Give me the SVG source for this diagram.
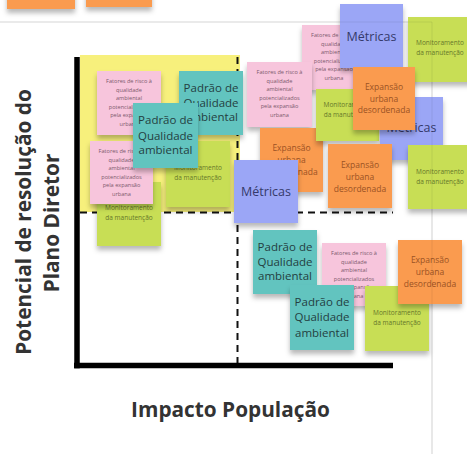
<svg xmlns="http://www.w3.org/2000/svg" width="467" height="454" viewBox="0 0 467 454">
<defs>
<filter id="sh" x="-20%" y="-20%" width="140%" height="150%">
<feDropShadow dx="0" dy="4" stdDeviation="2.5" flood-color="#000" flood-opacity="0.28"/>
</filter>
</defs>
<style>
text{font-family:"Open Sans","DejaVu Sans",sans-serif;text-anchor:middle}
.n{filter:url(#sh)}
.pk{fill:#f7c5dc}.tl{fill:#62c4bf}.gr{fill:#c8de55}.mt{fill:#9ba6f6}.or{fill:#fa9b4f}
.tp{font-size:5.6px;fill:#7c5a6c}
.tt{font-size:11.5px;fill:#24403f}
.tm{font-size:12.5px;fill:#353a6a}
.to{font-size:8.5px;fill:#9b5224}
.tg{font-size:6.5px;fill:#66772a}
.ax{font-size:20.8px;font-weight:bold;fill:#333}
.dash{stroke:#111;stroke-width:2;stroke-dasharray:7 5;fill:none}
</style>
<rect width="467" height="454" fill="#fff"/>
<g id="top-notes">
<rect class="n or" x="7" y="-55" width="68" height="64"/>
<rect class="n or" x="86" y="-57" width="66" height="64"/>
</g>
<g id="frame-bg"><path d="M-5 22H432V460" fill="none" stroke="#e8e8e8" stroke-width="1.2"/></g>
<rect id="quadrant-highlight" x="80" y="55" width="160" height="157" fill="#f7f07c"/>
<g id="connectors">
<path class="dash" d="M237.5 57V366"/>
<path class="dash" d="M80 212.5H393"/>
<path d="M77 57V368.5M74 365.5H393" stroke="#000" stroke-width="5.5" fill="none"/>
</g>
<g id="labels">
<text class="ax" x="230.5" y="417">Impacto População</text>
<text class="ax" transform="translate(31 222) rotate(-90)">Potencial de resolução do</text>
<text class="ax" transform="translate(59 223) rotate(-90)">Plano Diretor</text>
</g>
<g id="n1"><rect class="n pk" x="97" y="71" width="64" height="64"/>
<text class="tp"><tspan x="129" y="83">Fatores de risco à</tspan><tspan x="129" y="91.5">qualidade</tspan><tspan x="129" y="100">ambiental</tspan><tspan x="129" y="108.5">potencializados</tspan><tspan x="129" y="117">pela expansão</tspan><tspan x="129" y="125.5">urbana</tspan></text></g>
<g id="n2"><rect class="n tl" x="179" y="71" width="64" height="64"/>
<text class="tt"><tspan x="211" y="92">Padrão de</tspan><tspan x="211" y="107">Qualidade</tspan><tspan x="211" y="121">ambiental</tspan></text></g>
<g id="n5"><rect class="n gr" x="166" y="141" width="64" height="66"/>
<text class="tg"><tspan x="198" y="170">Monitoramento</tspan><tspan x="198" y="180">da manutenção</tspan></text></g>
<g id="n4"><rect class="n gr" x="97" y="182" width="64" height="64"/>
<text class="tg"><tspan x="129" y="210">Monitoramento</tspan><tspan x="129" y="220">da manutenção</tspan></text></g>
<g id="n3"><rect class="n pk" x="90" y="141" width="63" height="63"/>
<text class="tp"><tspan x="121.5" y="153">Fatores de risco à</tspan><tspan x="121.5" y="161.5">qualidade</tspan><tspan x="121.5" y="170">ambiental</tspan><tspan x="121.5" y="178.5">potencializados</tspan><tspan x="121.5" y="187">pela expansão</tspan><tspan x="121.5" y="195.5">urbana</tspan></text></g>
<g id="n6"><rect class="n tl" x="133" y="103" width="65" height="65"/>
<text class="tt"><tspan x="165.5" y="124">Padrão de</tspan><tspan x="165.5" y="140">Qualidade</tspan><tspan x="165.5" y="154">ambiental</tspan></text></g>
<g id="n7"><rect class="n pk" x="302" y="25" width="64" height="65"/>
<text class="tp"><tspan x="334" y="37">Fatores de risco à</tspan><tspan x="334" y="45.5">qualidade</tspan><tspan x="334" y="54">ambiental</tspan><tspan x="334" y="62.5">potencializados</tspan><tspan x="334" y="71">pela expansão</tspan><tspan x="334" y="79.5">urbana</tspan></text></g>
<g id="n8"><rect class="n mt" x="340" y="4" width="63" height="64"/>
<text class="tm" x="371.5" y="41">Métricas</text></g>
<g id="n9"><rect class="n gr" x="408" y="17" width="64" height="65"/>
<text class="tg"><tspan x="440" y="45">Monitoramento</tspan><tspan x="440" y="55">da manutenção</tspan></text></g>
<g id="n10"><rect class="n pk" x="247" y="62" width="65" height="65"/>
<text class="tp"><tspan x="279.5" y="74">Fatores de risco à</tspan><tspan x="279.5" y="82.5">qualidade</tspan><tspan x="279.5" y="91">ambiental</tspan><tspan x="279.5" y="99.5">potencializados</tspan><tspan x="279.5" y="108">pela expansão</tspan><tspan x="279.5" y="116.5">urbana</tspan></text></g>
<g id="n14"><rect class="n or" x="260" y="128" width="63" height="64"/>
<text class="to"><tspan x="291.5" y="151">Expansão</tspan><tspan x="291.5" y="163">urbana</tspan><tspan x="291.5" y="174.5">desordenada</tspan></text></g>
<g id="n11"><rect class="n gr" x="316" y="89" width="63" height="52"/>
<text class="tg"><tspan x="347.5" y="107">Monitoramento</tspan><tspan x="347.5" y="117">da manutenção</tspan></text></g>
<g id="n12"><rect class="n mt" x="380" y="97" width="63" height="63"/>
<text class="tm" x="411.5" y="132">Métricas</text></g>
<g id="n13"><rect class="n or" x="353" y="67" width="62" height="63"/>
<text class="to"><tspan x="384" y="89.5">Expansão</tspan><tspan x="384" y="101.5">urbana</tspan><tspan x="384" y="113">desordenada</tspan></text></g>
<g id="n15"><rect class="n or" x="328" y="144" width="64" height="64"/>
<text class="to"><tspan x="360" y="168">Expansão</tspan><tspan x="360" y="180">urbana</tspan><tspan x="360" y="191.5">desordenada</tspan></text></g>
<g id="n16"><rect class="n gr" x="408" y="145" width="64" height="64"/>
<text class="tg"><tspan x="440" y="174">Monitoramento</tspan><tspan x="440" y="184">da manutenção</tspan></text></g>
<g id="n17"><rect class="n mt" x="234" y="160" width="64" height="63"/>
<text class="tm" x="266" y="196">Métricas</text></g>
<g id="n18"><rect class="n tl" x="253" y="230" width="64" height="64"/>
<text class="tt"><tspan x="285" y="251">Padrão de</tspan><tspan x="285" y="266">Qualidade</tspan><tspan x="285" y="280">ambiental</tspan></text></g>
<g id="n19"><rect class="n pk" x="322" y="243" width="64" height="63"/>
<text class="tp"><tspan x="354" y="255">Fatores de risco à</tspan><tspan x="354" y="263.5">qualidade</tspan><tspan x="354" y="272">ambiental</tspan><tspan x="354" y="280.5">potencializados</tspan><tspan x="354" y="289">pela expansão</tspan><tspan x="354" y="297.5">urbana</tspan></text></g>
<g id="n21"><rect class="n tl" x="290" y="285" width="64" height="65"/>
<text class="tt"><tspan x="322" y="306">Padrão de</tspan><tspan x="322" y="321">Qualidade</tspan><tspan x="322" y="337">ambiental</tspan></text></g>
<g id="n22"><rect class="n gr" x="365" y="286" width="64" height="65"/>
<text class="tg"><tspan x="397" y="315">Monitoramento</tspan><tspan x="397" y="324.5">da manutenção</tspan></text></g>
<g id="n20"><rect class="n or" x="398" y="240" width="64" height="64"/>
<text class="to"><tspan x="430" y="263">Expansão</tspan><tspan x="430" y="275">urbana</tspan><tspan x="430" y="286.5">desordenada</tspan></text></g>
<g id="frame-overlay"><path d="M-5 22H432V460" fill="none" stroke="#000" stroke-opacity="0.07" stroke-width="1"/></g>
</svg>
